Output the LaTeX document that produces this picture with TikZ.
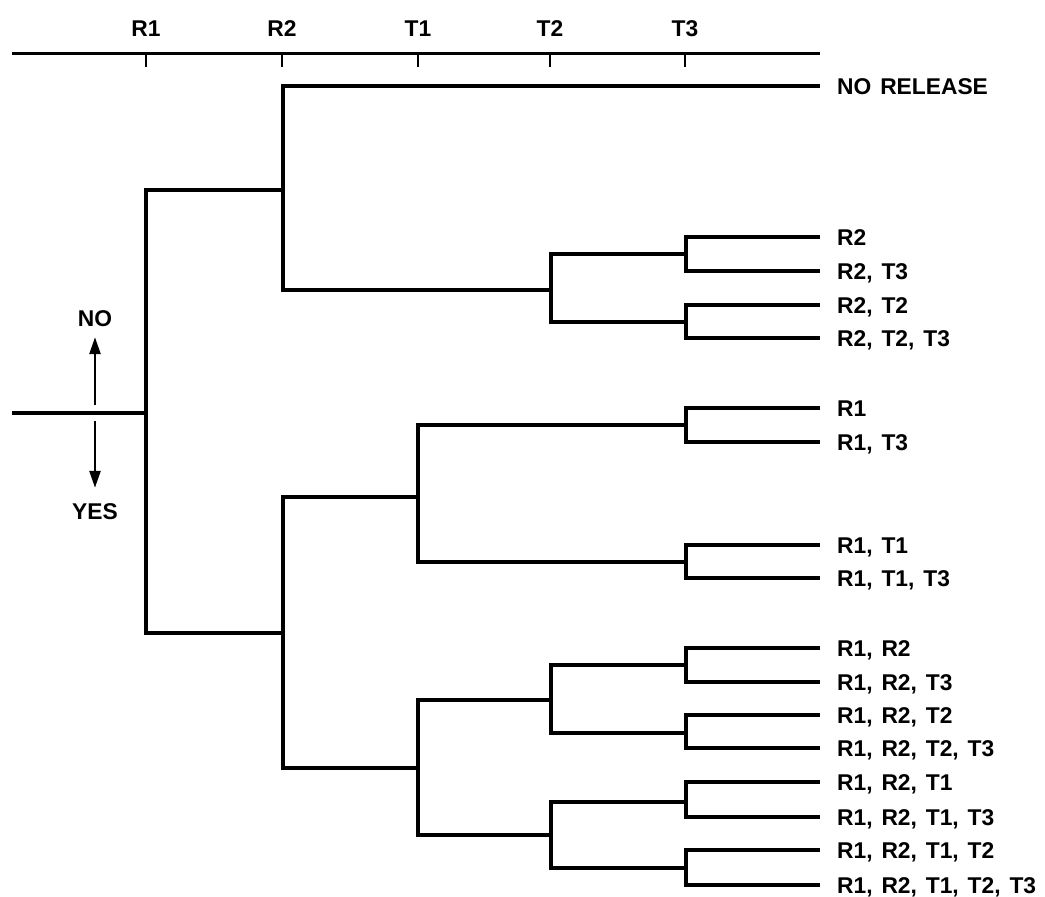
\documentclass[tikz,border=0pt]{standalone}
\usepackage{fontspec}
\setmainfont{Liberation Sans}[WordSpace=1.4]
\usetikzlibrary{arrows.meta}
\begin{document}
\begin{tikzpicture}[x=1pt,y=-1pt,
  tree/.style={line width=3.2pt, line join=miter},
  lab/.style={font=\fontsize{22.8}{24}\selectfont\bfseries, inner sep=0pt, text height=16pt, text depth=0pt},
  leaf/.style={lab, anchor=west},
  tickline/.style={line width=2.2pt},
  ynarrow/.style={line width=2.6pt, -{Triangle[length=17pt,width=11pt]}}]
\useasboundingbox (0,0) rectangle (1045,897);
% axis
\coordinate (axL) at (12,53);
\coordinate (axR) at (820,53);
\draw[line width=3pt] (axL) -- (axR);
\foreach \n/\x in {R1/146,R2/282,T1/418,T2/550,T3/685}{
  \coordinate (tk\n) at (\x,53);
  \coordinate (tb\n) at (\x,67);
  \draw[tickline] (tk\n) -- (tb\n);
  \node[lab] (ax\n) at (\x,28) {\n};
}
% root
\coordinate (S) at (12,413);
\coordinate (P0) at (146,413);
\coordinate (U) at (283,190);
\coordinate (L) at (283,633);
\draw[tree] (S) -- (P0);
\draw[tree] (U) -| (P0) |- (L);
% upper subtree
\coordinate (NRe) at (820,86);
\coordinate (U2) at (551,290);
\coordinate (U2a) at (686,254);
\coordinate (U2b) at (686,322);
\draw[tree] (NRe) -| (U) |- (U2);
\draw[tree] (U2a) -| (U2) |- (U2b);
% lower subtree
\coordinate (La) at (418,497);
\coordinate (Lb) at (418,768);
\coordinate (Laa) at (686,425);
\coordinate (Lab) at (686,562);
\coordinate (Lba) at (551,700);
\coordinate (Lbb) at (551,835);
\coordinate (Lbaa) at (686,665);
\coordinate (Lbab) at (686,733);
\coordinate (Lbba) at (686,802);
\coordinate (Lbbb) at (686,868);
\draw[tree] (La) -| (L) |- (Lb);
\draw[tree] (Laa) -| (La) |- (Lab);
\draw[tree] (Lba) -| (Lb) |- (Lbb);
\draw[tree] (Lbaa) -| (Lba) |- (Lbab);
\draw[tree] (Lbba) -| (Lbb) |- (Lbbb);
% leaves
\node[leaf] (lNR) at (837,86) {NO RELEASE};
\foreach \j/\ya/\yb/\ta/\tb in {
  U2a/237/271/{R2}/{R2, T3},
  U2b/305/338/{R2, T2}/{R2, T2, T3},
  Laa/408/442/{R1}/{R1, T3},
  Lab/545/578/{R1, T1}/{R1, T1, T3},
  Lbaa/648/682/{R1, R2}/{R1, R2, T3},
  Lbab/715/748/{R1, R2, T2}/{R1, R2, T2, T3},
  Lbba/782/817/{R1, R2, T1}/{R1, R2, T1, T3},
  Lbbb/850/885/{R1, R2, T1, T2}/{R1, R2, T1, T2, T3}}{
  \coordinate (\j-a) at (820,\ya);
  \coordinate (\j-b) at (820,\yb);
  \draw[tree] (\j-a) -| (\j) |- (\j-b);
  \node[leaf] (\j-la) at (837,\ya) {\ta};
  \node[leaf] (\j-lb) at (837,\yb) {\tb};
}
% NO / YES
\node[lab] (no) at (95,318) {NO};
\node[lab] (yes) at (95,511) {YES};
\coordinate (nos) at (95,405);
\coordinate (yess) at (95,421);
\draw[ynarrow, shorten >=11pt] (nos) -- (no.south);
\draw[ynarrow, shorten >=15pt] (yess) -- (yes.north);
\end{tikzpicture}
\end{document}
